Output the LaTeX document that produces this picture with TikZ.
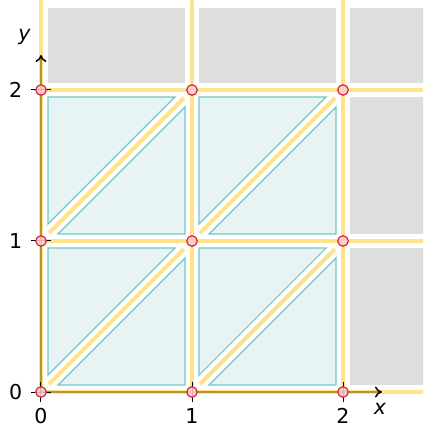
\documentclass[tikz,border=0pt]{standalone}
\usepackage{fontspec}
\setmainfont{DejaVu Sans}
\usetikzlibrary{arrows.meta}
\definecolor{ylw}{HTML}{FFE38A}
\definecolor{cyfill}{HTML}{E8F4F4}
\definecolor{cyline}{HTML}{74C6C6}
\definecolor{gry}{HTML}{DEDEDE}
\definecolor{axc}{HTML}{B39532}
\definecolor{ptfill}{HTML}{F8CCD2}
\definecolor{ptline}{HTML}{D7263A}
\begin{document}
\begin{tikzpicture}[x=151pt,y=151pt,
  cell/.style={fill=cyfill,draw=cyline,line width=1.2pt},
  grey/.style={fill=gry},
  road/.style={draw=ylw,line width=4pt},
  axis/.style={draw=axc,line width=1.5pt,-{To[color=black,length=7pt,width=11pt]}},
  tickmark/.style={draw=black,line width=1pt},
  pt/.style={circle,draw=ptline,fill=ptfill,fill opacity=0.85,line width=1.2pt,minimum size=10.5pt,inner sep=0pt},
  lbl/.style={font=\fontsize{20.5}{24}\selectfont,inner sep=0pt}]
\useasboundingbox (-0.2715,-0.245) rectangle (2.5298,2.596);
\clip (-0.2715,-0.245) rectangle (2.5298,2.596);
\def\d{0.0464}
\def\e{0.0656}
\def\s{0.053}
% grey outer cells
\foreach \i in {0,1,2}
  \fill[grey] ({\i+\d},{2+\d}) rectangle ({\i+1-\d},2.543);
\foreach \j in {0,1}
  \fill[grey] ({2+\d},{\j+\d}) rectangle (2.7,{\j+1-\d});
% cyan triangles
\foreach \i in {0,1}
  \foreach \j in {0,1}{
    \draw[cell] ({\i+\d},{\j+\d+\e}) -- ({\i+\d},{\j+1-\d}) -- ({\i+1-\d-\e},{\j+1-\d}) -- cycle;
    \draw[cell] ({\i+\d+\e},{\j+\d}) -- ({\i+1-\d},{\j+\d}) -- ({\i+1-\d},{\j+1-\d-\e}) -- cycle;
    \draw[road] ({\i+\s},{\j+\s}) -- ({\i+1-\s},{\j+1-\s});
  }
% grid roads
\foreach \k in {0,1,2}{
  \draw[road] (\k,0) -- (\k,2.7);
  \draw[road] (0,\k) -- (2.7,\k);
}
% axes
\coordinate (O) at (0,0);
\coordinate (xend) at (2.258,0);
\coordinate (yend) at (0,2.232);
\draw[axis] (O) -- (xend);
\draw[axis] (O) -- (yend);
\foreach \k in {0,1,2}{
  \draw[tickmark] (\k,-0.066) -- (\k,0.066);
  \draw[tickmark] (-0.066,\k) -- (0.066,\k);
  \node[lbl] (xl\k) at (\k,-0.16) {\k};
  \node[lbl] (yl\k) at (-0.168,\k) {\k};
}
\node[lbl] (xlab) at (2.245,-0.109) {\itshape x};
\node[lbl] (ylab) at (-0.109,2.354) {\itshape y};
% points
\foreach \i in {0,1,2}
  \foreach \j in {0,1,2}
    \node[pt] (p\i\j) at (\i,\j) {};
\end{tikzpicture}
\end{document}
